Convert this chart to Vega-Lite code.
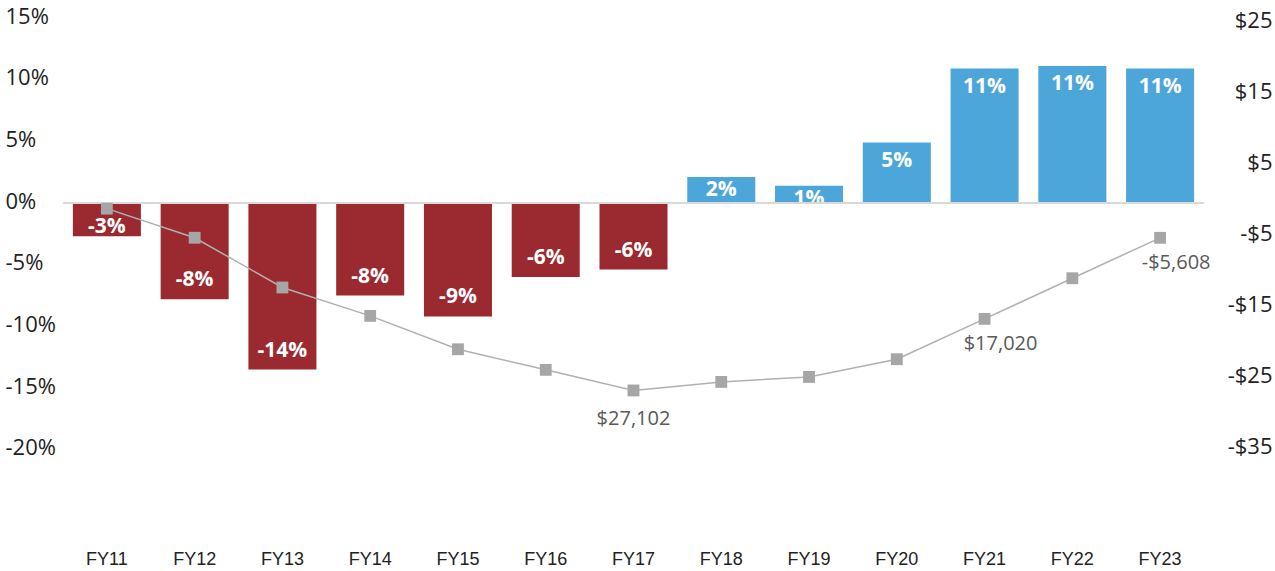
{
  "$schema": "https://vega.github.io/schema/vega-lite/v6.json",
  "autosize": {"type": "none"},
  "width": 1141,
  "height": 518,
  "padding": {"left": 63, "top": 18, "right": 71, "bottom": 35},
  "background": "white",
  "config": {
    "view": {"stroke": null},
    "axis": {"domain": false, "ticks": false, "tickSize": 0, "grid": false, "title": null}
  },
  "data": {
    "values": [
      {"year": "FY11", "pct": -2.7, "barLabel": "-3%", "debt": -1.5, "debtLabel": ""},
      {"year": "FY12", "pct": -7.8, "barLabel": "-8%", "debt": -5.6, "debtLabel": ""},
      {"year": "FY13", "pct": -13.5, "barLabel": "-14%", "debt": -12.6, "debtLabel": ""},
      {"year": "FY14", "pct": -7.5, "barLabel": "-8%", "debt": -16.6, "debtLabel": ""},
      {"year": "FY15", "pct": -9.2, "barLabel": "-9%", "debt": -21.3, "debtLabel": ""},
      {"year": "FY16", "pct": -6.0, "barLabel": "-6%", "debt": -24.2, "debtLabel": ""},
      {"year": "FY17", "pct": -5.4, "barLabel": "-6%", "debt": -27.102, "debtLabel": "$27,102"},
      {"year": "FY18", "pct": 2.1, "barLabel": "2%", "debt": -25.9, "debtLabel": ""},
      {"year": "FY19", "pct": 1.4, "barLabel": "1%", "debt": -25.2, "debtLabel": ""},
      {"year": "FY20", "pct": 4.9, "barLabel": "5%", "debt": -22.7, "debtLabel": ""},
      {"year": "FY21", "pct": 10.9, "barLabel": "11%", "debt": -17.02, "debtLabel": "$17,020"},
      {"year": "FY22", "pct": 11.1, "barLabel": "11%", "debt": -11.3, "debtLabel": ""},
      {"year": "FY23", "pct": 10.9, "barLabel": "11%", "debt": -5.608, "debtLabel": "-$5,608"}
    ]
  },
  "encoding": {
    "x": {
      "field": "year",
      "type": "nominal",
      "sort": null,
      "scale": {"paddingInner": 0.225, "paddingOuter": 0.1125},
      "axis": {
        "orient": "bottom",
        "labelAngle": 0,
        "labelFont": "Liberation Sans",
        "labelFontSize": 18,
        "labelColor": "#222222",
        "labelPadding": 14,
        "labelBaseline": "top"
      }
    }
  },
  "layer": [
    {
      "encoding": {
        "y": {
          "field": "pct",
          "type": "quantitative",
          "scale": {"domain": [-27, 15], "nice": false, "zero": false},
          "axis": {
            "orient": "left",
            "values": [-20, -15, -10, -5, 0, 5, 10, 15],
            "labelExpr": "datum.value + '%'",
            "labelAlign": "left",
            "labelPadding": 58,
            "labelFont": "Open Sans",
            "labelFontSize": 22,
            "labelColor": "#222222",
            "labelOffset": -2
          }
        }
      },
      "layer": [
        {
          "mark": {"type": "bar"},
          "encoding": {
            "color": {
              "condition": {"test": "datum.pct > 0", "value": "#4da6da"},
              "value": "#9b2a30"
            }
          }
        },
        {
          "transform": [{"filter": "datum.pct >= 3"}],
          "mark": {"type": "text", "color": "white", "font": "Open Sans", "fontWeight": "bold", "fontSize": 21, "baseline": "middle", "dy": 18},
          "encoding": {"text": {"field": "barLabel"}}
        },
        {
          "transform": [{"filter": "datum.pct > 0 && datum.pct < 3"}],
          "mark": {"type": "text", "color": "white", "font": "Open Sans", "fontWeight": "bold", "fontSize": 21, "baseline": "middle", "dy": 13},
          "encoding": {"text": {"field": "barLabel"}}
        },
        {
          "transform": [{"filter": "datum.pct <= -4"}],
          "mark": {"type": "text", "color": "white", "font": "Open Sans", "fontWeight": "bold", "fontSize": 21, "baseline": "middle", "dy": -19},
          "encoding": {"text": {"field": "barLabel"}}
        },
        {
          "transform": [{"filter": "datum.pct < 0 && datum.pct > -4"}],
          "mark": {"type": "text", "color": "white", "font": "Open Sans", "fontWeight": "bold", "fontSize": 21, "baseline": "middle", "dy": -9},
          "encoding": {"text": {"field": "barLabel"}}
        },
        {
          "mark": {"type": "rule", "color": "#d9d9d9", "strokeWidth": 2},
          "encoding": {"y": {"datum": 0}, "x": null}
        }
      ]
    },
    {
      "encoding": {
        "y": {
          "field": "debt",
          "type": "quantitative",
          "scale": {"domain": [-47.6, 25.35], "nice": false, "zero": false},
          "axis": {
            "orient": "right",
            "values": [25, 15, 5, -5, -15, -25, -35],
            "labelExpr": "datum.value < 0 ? '-$' + abs(datum.value) : '$' + datum.value",
            "labelAlign": "right",
            "labelPadding": 68,
            "labelFont": "Open Sans",
            "labelFontSize": 22,
            "labelColor": "#222222"
          }
        }
      },
      "layer": [
        {
          "mark": {"type": "line", "color": "#b0b0b0", "strokeWidth": 1.5},
          "encoding": {}
        },
        {
          "mark": {"type": "point", "shape": "square", "filled": true, "size": 140, "color": "#a6a6a6", "opacity": 1},
          "encoding": {}
        },
        {
          "transform": [{"filter": "datum.year == 'FY17'"}],
          "mark": {"type": "text", "color": "#595959", "font": "Open Sans", "fontSize": 20, "baseline": "middle", "dy": 29},
          "encoding": {"text": {"field": "debtLabel"}}
        },
        {
          "transform": [{"filter": "datum.year == 'FY21' || datum.year == 'FY23'"}],
          "mark": {"type": "text", "color": "#595959", "font": "Open Sans", "fontSize": 20, "baseline": "middle", "dy": 25, "dx": 16},
          "encoding": {"text": {"field": "debtLabel"}}
        }
      ]
    }
  ],
  "resolve": {"scale": {"y": "independent"}}
}
